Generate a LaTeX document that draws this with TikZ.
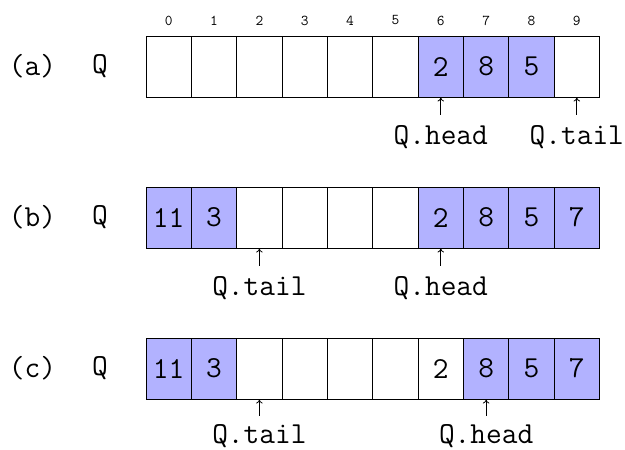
\documentclass[tikz,border=0pt]{standalone}
\usetikzlibrary{arrows.meta}
\colorlet{qfill}{blue!30}
\begin{document}
\begin{tikzpicture}[x=1pt,y=-1pt,
  cell/.style={draw=black,line width=1pt,minimum width=45.35pt,minimum height=61pt,inner sep=0pt,
    font=\fontsize{30.5}{36}\selectfont\ttfamily},
  idx/.style={font=\fontsize{15}{17}\selectfont\ttfamily,inner sep=0pt},
  rowlbl/.style={font=\fontsize{30.5}{36}\selectfont\ttfamily,inner sep=0pt},
  ptr/.style={font=\fontsize{30.5}{36}\selectfont\ttfamily,inner sep=0pt,anchor=base,
    text height=20pt},
  arr/.style={line width=0.8pt,shorten <=9.5pt,-{To[length=4pt,width=6.5pt]}}]
\useasboundingbox (0,0) rectangle (625,450);
% index labels
\foreach \i in {0,...,9}
  \node[idx] (i\i) at ({146+45.35*(\i+0.5)},20.5) {\i};
% row (a)
\node[rowlbl] (la) at (32.5,66.5) {(a)};
\node[rowlbl] (qa) at (100,66.5) {Q};
\foreach \i/\v/\c in {0/{}/white,1/{}/white,2/{}/white,3/{}/white,4/{}/white,5/{}/white,6/2/qfill,7/8/qfill,8/5/qfill,9/{}/white}
  \node[cell,fill=\c] (a\i) at ({146+45.35*(\i+0.5)},66.5) {\v};
\node[ptr] (ah) at (a6.center |- 0,144.5) {Q.head};
\node[ptr] (at) at (a9.center |- 0,144.5) {Q.tail};
\draw[arr] (ah.north) -- (a6.south);
\draw[arr] (at.north) -- (a9.south);
% row (b)
\node[rowlbl] (lb) at (32.5,217.5) {(b)};
\node[rowlbl] (qb) at (100,217.5) {Q};
\foreach \i/\v/\c in {0/11/qfill,1/3/qfill,2/{}/white,3/{}/white,4/{}/white,5/{}/white,6/2/qfill,7/8/qfill,8/5/qfill,9/7/qfill}
  \node[cell,fill=\c] (b\i) at ({146+45.35*(\i+0.5)},217.5) {\v};
\node[ptr] (bt) at (b2.center |- 0,295.5) {Q.tail};
\node[ptr] (bh) at (b6.center |- 0,295.5) {Q.head};
\draw[arr] (bt.north) -- (b2.south);
\draw[arr] (bh.north) -- (b6.south);
% row (c)
\node[rowlbl] (lc) at (32.5,368.5) {(c)};
\node[rowlbl] (qc) at (100,368.5) {Q};
\foreach \i/\v/\c in {0/11/qfill,1/3/qfill,2/{}/white,3/{}/white,4/{}/white,5/{}/white,6/2/white,7/8/qfill,8/5/qfill,9/7/qfill}
  \node[cell,fill=\c] (c\i) at ({146+45.35*(\i+0.5)},368.5) {\v};
\node[ptr] (ct) at (c2.center |- 0,443) {Q.tail};
\node[ptr] (ch) at (c7.center |- 0,443) {Q.head};
\draw[arr,shorten <=7pt] (ct.north) -- (c2.south);
\draw[arr,shorten <=7pt] (ch.north) -- (c7.south);
\end{tikzpicture}
\end{document}
